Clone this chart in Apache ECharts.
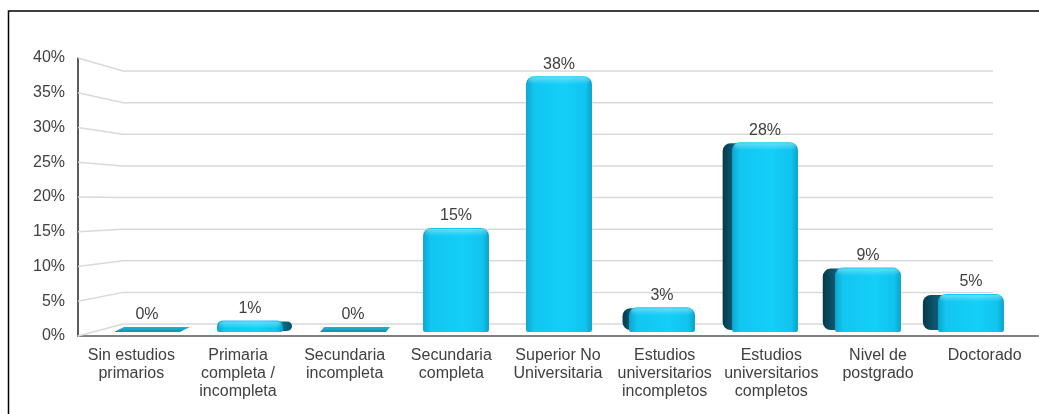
<!DOCTYPE html>
<html>
<head>
<meta charset="utf-8">
<title>Nivel de estudios</title>
<script src="https://cdn.jsdelivr.net/npm/echarts@6/dist/echarts.min.js"></script>
<style>
  html, body { margin: 0; padding: 0; background: #ffffff; }
  #chart { width: 1039px; height: 414px; }
</style>
</head>
<body>
<div id="chart"></div>
<script>
// Education level categories (line breaks as printed under the axis)
const categories = [
  'Sin estudios\nprimarios',
  'Primaria\ncompleta /\nincompleta',
  'Secundaria\nincompleta',
  'Secundaria\ncompleta',
  'Superior No\nUniversitaria',
  'Estudios\nuniversitarios\nincompletos',
  'Estudios\nuniversitarios\ncompletos',
  'Nivel de\npostgrado',
  'Doctorado'
];

// Share of respondents per level, in percent
const shares = [0, 1, 0, 15, 38, 3, 28, 9, 5];

// Value-axis ticks (percent)
const yTicks = [0, 5, 10, 15, 20, 25, 30, 35, 40];

const FONT = '"Liberation Sans", Arial, sans-serif';
const TEXT = '#404040';

const chart = echarts.init(document.getElementById('chart'), null, { renderer: 'canvas' });

// Gridlines in a simple perspective: from the front wall edge, receding to the back wall
function renderGridline(params, api) {
  const cs = params.coordSys;
  const v = api.value(1);
  const yFront = api.coord([0, v])[1];
  const yZero = api.coord([0, 0])[1];
  const depthX = 45, depthY = 12, shrink = 0.91;
  const yBack = yZero - depthY - (yZero - yFront) * shrink;
  return {
    type: 'polyline',
    shape: { points: [[cs.x, yFront], [cs.x + depthX, yBack], [cs.x + cs.width - depthX, yBack]] },
    style: { stroke: '#d9d9d9', lineWidth: 1.5, fill: null }
  };
}

// 3D-looking column: front face with rounded top, side face toward the viewpoint, value label
function renderBar(params, api) {
  const cs = params.coordSys;
  const i = api.value(0);
  const v = api.value(1);
  const top = api.coord([i, v]);
  const cx = top[0];
  const yTop = top[1];
  const yZero = api.coord([i, 0])[1];
  const yBot = yZero + 5;
  const band = api.size([1, 0])[0];
  const faceW = band * 0.64;
  const x0 = cx - faceW / 2;
  const x1 = cx + faceW / 2;
  const eyeX = cs.x + cs.width * 0.437;
  const dx = (eyeX - cx) * 0.028;
  const children = [];

  if (v <= 0) {
    // flat top face of an empty column
    children.push({
      type: 'polygon',
      shape: { points: [[x0, yBot], [x1, yBot], [x1 + dx, yTop], [x0 + dx, yTop]] },
      style: {
        fill: new echarts.graphic.LinearGradient(0, 0, 0, 1, [
          { offset: 0, color: '#1fb3d6' },
          { offset: 1, color: '#1190b2' }
        ])
      }
    });
  } else {
    const h = yBot - yTop;
    const r = Math.min(8, h / 2);
    if (dx < -2) {
      // left side face (columns right of the viewpoint)
      children.push({
        type: 'rect',
        shape: { x: x0 + dx - 2, y: yTop + 1, width: -dx + 2 + 8, height: h - 3, r: [r, 0, 0, r] },
        style: {
          fill: new echarts.graphic.LinearGradient(0, 0, 1, 0, [
            { offset: 0, color: '#06394a' },
            { offset: 0.6, color: '#0c5a72' },
            { offset: 1, color: '#10708c' }
          ])
        }
      });
    } else if (dx > 2) {
      // right side face (columns left of the viewpoint)
      children.push({
        type: 'rect',
        shape: { x: x1 - 8, y: yTop + 1, width: dx + 2 + 8, height: h - 2, r: [0, r, r, 0] },
        style: {
          fill: new echarts.graphic.LinearGradient(0, 0, 1, 0, [
            { offset: 0, color: '#0e86a6' },
            { offset: 1, color: '#075066' }
          ])
        }
      });
    }
    // front face
    children.push({
      type: 'rect',
      shape: { x: x0, y: yTop, width: faceW, height: h, r: [r, r, 2, 2] },
      style: {
        fill: new echarts.graphic.LinearGradient(0, 0, 1, 0, [
          { offset: 0, color: '#0aa6cf' },
          { offset: 0.12, color: '#12c6f0' },
          { offset: 0.6, color: '#14cff9' },
          { offset: 0.9, color: '#10c4ee' },
          { offset: 1, color: '#0aa2c9' }
        ])
      }
    });
    // bevel highlight along the top
    children.push({
      type: 'rect',
      shape: { x: x0 + 2, y: yTop + 1, width: faceW - 4, height: Math.min(7, h - 2), r: r },
      style: {
        fill: new echarts.graphic.LinearGradient(0, 0, 0, 1, [
          { offset: 0, color: 'rgba(255,255,255,0.35)' },
          { offset: 1, color: 'rgba(255,255,255,0)' }
        ])
      }
    });
  }

  // value label
  children.push({
    type: 'text',
    style: {
      text: v + '%',
      x: cx,
      y: yTop - 4,
      align: 'center',
      verticalAlign: 'bottom',
      fill: TEXT,
      fontSize: 16,
      fontFamily: FONT
    }
  });

  return { type: 'group', children: children };
}

const option = {
  animation: false,
  backgroundColor: '#ffffff',
  textStyle: { fontFamily: FONT },
  graphic: [{
    type: 'rect',
    shape: { x: 8.5, y: 11, width: 1045, height: 420 },
    style: { fill: null, stroke: '#000000', lineWidth: 1.5 },
    silent: true,
    z: 10
  }],
  grid: [
    // front plane: value labels, wall, floor edge and category labels
    { left: 78, right: 1, top: 58, bottom: 78 },
    // mid plane: the columns
    { left: 95.5, right: 16.5, top: 63, bottom: 87 }
  ],
  xAxis: [
    {
      type: 'category',
      gridIndex: 0,
      data: categories,
      axisTick: { show: false },
      axisLine: { show: true, lineStyle: { color: '#808080', width: 2 } },
      axisLabel: {
        interval: 0,
        margin: 11,
        color: TEXT,
        fontSize: 16,
        lineHeight: 18,
        fontFamily: FONT,
        align: 'center'
      },
      splitLine: { show: false }
    },
    {
      type: 'category',
      gridIndex: 1,
      data: categories,
      show: false
    }
  ],
  yAxis: [
    {
      type: 'value',
      gridIndex: 0,
      min: 0,
      max: 40,
      interval: 5,
      axisLine: { show: true, lineStyle: { color: '#262626', width: 1.5 } },
      axisTick: { show: false },
      splitLine: { show: false },
      axisLabel: {
        formatter: '{value}%',
        margin: 13,
        color: TEXT,
        fontSize: 16,
        fontFamily: FONT
      }
    },
    {
      type: 'value',
      gridIndex: 1,
      min: 0,
      max: 40,
      interval: 5,
      show: false
    }
  ],
  series: [
    {
      type: 'custom',
      name: 'grid',
      xAxisIndex: 0,
      yAxisIndex: 0,
      silent: true,
      z: 1,
      renderItem: renderGridline,
      data: yTicks.map(function (t) { return [0, t]; })
    },
    {
      type: 'custom',
      name: 'Nivel de estudios',
      xAxisIndex: 1,
      yAxisIndex: 1,
      z: 3,
      renderItem: renderBar,
      data: shares.map(function (v, i) { return [i, v]; })
    }
  ]
};

chart.setOption(option);
</script>
</body>
</html>
